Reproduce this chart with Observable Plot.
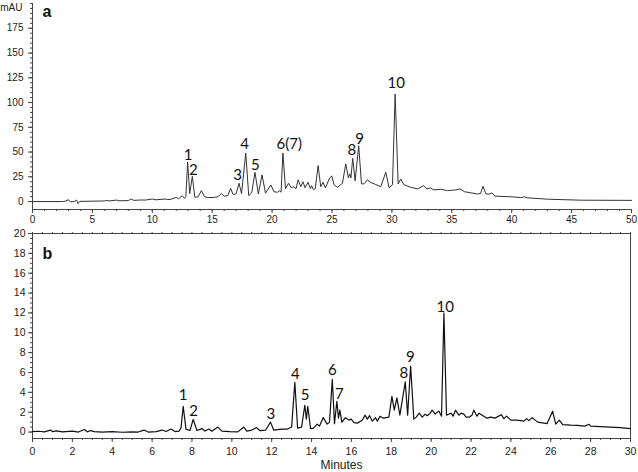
<!DOCTYPE html>
<html><head><meta charset="utf-8">
<script src="https://cdn.jsdelivr.net/npm/d3@7"></script>
<script src="https://cdn.jsdelivr.net/npm/@observablehq/plot@0.6"></script>
<style>
body{margin:0;background:#fff;}
#chart{width:638px;height:472px;position:relative;}
#chart svg{display:block;}
</style></head><body><div id="chart"></div>
<script>
// ---- Panel a data (retention time in min, absorbance in mAU) ----
const timeA = [0,2.5,2.7,2.98,3.2,3.5,3.68,3.8,3.95,5,6.0,6.2,6.4,6.99,7.2,8.0,8.24,8.45,9.0,9.4,10.0,10.3,11.1,11.3,11.6,12.0,12.2,12.5,12.7,12.8,12.95,13.12,13.34,13.55,13.8,14.1,14.35,14.6,15.2,15.5,15.76,16.0,16.3,16.54,16.75,17.0,17.24,17.45,17.8,18.05,18.3,18.57,18.85,19.16,19.45,19.9,20.15,20.45,20.6,20.75,20.9,21.12,21.36,21.6,21.8,22.0,22.17,22.4,22.58,22.75,23.0,23.2,23.3,23.45,23.6,23.84,24.06,24.25,24.45,24.76,24.98,25.17,25.45,25.87,26.15,26.37,26.48,26.58,26.73,26.93,27.23,27.46,27.7,27.96,28.2,28.6,29.07,29.49,29.77,30.05,30.27,30.52,30.74,31.0,31.58,32.14,32.64,32.92,33.2,33.5,34.09,34.64,35.34,35.7,36.05,36.6,37.15,37.4,37.6,37.85,38.1,38.35,38.6,40.0,40.8,41.05,41.3,43.0,45.8,50];
const signalA = [0,0,0.3,1.8,-0.3,0.2,1.5,-2.0,0.2,0.4,0.6,1.2,0.6,1.5,0.8,1.0,2.6,1.2,1.6,1.5,2.6,1.8,2.6,2.0,2.4,4.3,2.8,6.0,3.2,5,40,8,25.5,4.5,4.5,11,5,4,4.2,5,8,5.5,6,13.4,7,8,18.5,8,49,6,9,29.5,7.7,27,8.5,16.8,10,9.4,11,9.5,49,13,18.5,14,15,13,22,15,20,14,19.5,13,16,12,13,36.3,15,19.5,13.8,22.8,26,17,14.4,18.5,38,24,28,24,43.7,21,56.4,17.8,18,21.9,19.5,17.5,15,29.6,13.8,17,108.5,17.8,22.8,17,14.4,12.8,16,12.8,13.8,11.8,12.4,11,11.8,12.8,10,8.8,7.7,8,15.4,7.7,7.5,8.8,5.5,4.8,4.0,4.8,3.8,2.4,1.4,1.2];
const peakNamesA = ["1","2","3","4","5","6(7)","8","9","10"];
const peakLabelTimeA = [12.99,13.42,17.12,17.71,18.6,21.43,26.65,27.3,30.36];
const peakLabelLevelA = [42.3,27.2,22.2,53.1,32.3,53.1,47,58.2,114.6];
const xDomainA = [0,50];
const yDomainA = [-8,200];
const xTicksA = [0,5,10,15,20,25,30,35,40,45,50];
const yTicksA = [0,25,50,75,100,125,150,175];

// ---- Panel b data ----
const timeB = [0,0.3,0.6,0.9,1.0,1.2,1.5,2.0,2.3,2.6,2.75,2.9,3.1,3.5,4.0,4.5,5.0,5.3,5.6,5.8,6.2,6.5,6.7,6.95,7.15,7.35,7.45,7.56,7.7,7.9,8.06,8.25,8.5,8.65,8.85,9.0,9.3,9.5,9.9,10.3,10.6,10.75,11.0,11.24,11.4,11.7,11.94,12.1,12.5,12.8,13.0,13.16,13.3,13.5,13.66,13.74,13.81,13.95,14.1,14.28,14.4,14.58,14.78,14.9,15.04,15.15,15.27,15.35,15.42,15.52,15.7,15.87,15.99,16.13,16.3,16.54,16.68,16.8,16.91,17.05,17.21,17.3,17.43,17.6,17.88,18.03,18.15,18.28,18.43,18.7,18.82,18.97,19.13,19.25,19.4,19.55,19.7,19.8,19.95,20.05,20.2,20.3,20.39,20.52,20.64,20.77,21.0,21.1,21.22,21.39,21.5,21.64,21.75,21.9,22.05,22.14,22.3,22.4,22.56,22.8,22.98,23.2,23.52,23.65,23.78,24.0,24.3,24.65,24.79,24.9,25.07,25.34,25.82,26.09,26.25,26.43,26.6,27.0,27.33,27.7,27.92,28.0,28.5,29.0,29.5,30];
const signalB = [0.05,0.08,0.02,0.2,0.05,0.12,0.02,0.1,0.0,0.25,0.02,0.15,0.05,0.0,0.05,-0.02,0.02,0.0,0.2,0.0,0.05,0.2,0.05,0.3,0.05,0.1,0.4,2.6,0.3,0.15,1.28,0.15,0.35,0.1,0.3,0.08,0.5,0.1,0.05,0.02,0.5,0.1,0.2,0.45,0.15,0.2,1.0,0.2,0.3,0.3,0.5,5.0,0.4,0.5,2.7,1.3,2.6,0.35,0.4,0.8,0.6,1.45,0.8,1.0,5.3,0.85,3.1,1.4,2.2,1.0,1.45,1.2,1.3,0.95,0.9,1.18,1.7,1.3,1.65,1.1,1.45,1.1,1.6,1.4,1.5,3.6,2.2,3.45,1.7,5.05,1.7,6.65,1.3,1.5,1.9,1.5,1.8,1.65,1.9,2.2,1.8,2.0,2.1,1.6,12.0,1.7,1.9,1.6,2.2,1.7,1.9,1.8,1.5,1.5,1.7,2.2,1.6,1.9,1.7,1.4,1.5,1.4,1.75,1.35,1.6,1.2,1.2,1.1,1.35,1.15,1.45,1.0,0.85,2.1,0.8,1.2,0.75,0.7,0.68,0.6,0.78,0.6,0.55,0.5,0.45,0.34];
const peakNamesB = ["1","2","3","4","5","6","7","8","9","10"];
const peakLabelTimeB = [7.56,8.08,11.96,13.18,13.67,15.04,15.39,18.63,18.95,20.71];
const peakLabelLevelB = [3.2,1.62,1.28,5.32,3.2,5.73,3.3,5.45,7.07,12.12];
const xDomainB = [0,30];
const yDomainB = [-0.65,20];
const xTicksB = [0,2,4,6,8,10,12,14,16,18,20,22,24,26,28,30];
const yTicksB = [0,2,4,6,8,10,12,14,16,18,20];

// ---- build tables ----
const dataA = timeA.map((t,i)=>({t, v: signalA[i]}));
const dataB = timeB.map((t,i)=>({t, v: signalB[i]}));
const labA = peakNamesA.map((s,i)=>({s, t: peakLabelTimeA[i], v: peakLabelLevelA[i]}));
const labB = peakNamesB.map((s,i)=>({s, t: peakLabelTimeB[i], v: peakLabelLevelB[i]}));
const xMinorA = d3.range(xDomainA[0], xDomainA[1]+0.001, 1);
const yMinorA = d3.range(0, yDomainA[1]+0.001, 5);
const xMinorB = d3.range(xDomainB[0], xDomainB[1]+0.001, 0.5);
const yMinorB = d3.range(0, yDomainB[1]+0.001, 0.5);

const font = "'Liberation Sans', Arial, sans-serif";
const labelFont = "Lato, 'Open Sans', sans-serif";
const axisColor = "#444";

const plotA = Plot.plot({
  width: 638, height: 226,
  marginLeft: 32, marginRight: 7, marginTop: 3, marginBottom: 17,
  style: {fontFamily: font, fontSize: "10px", color: "#222", background: "#fff"},
  x: {domain: xDomainA},
  y: {domain: yDomainA},
  marks: [
    Plot.axisX({ticks: xTicksA, tickSize: 4, tickPadding: 2, label: null, stroke: axisColor}),
    Plot.axisX({ticks: xMinorA, tickSize: 2, text: null, label: null, stroke: axisColor}),
    Plot.axisY({ticks: yTicksA, tickSize: 4, tickPadding: 5, label: null, stroke: axisColor}),
    Plot.axisY({ticks: yMinorA, tickSize: 2, text: null, label: null, stroke: axisColor}),
    Plot.ruleX([xDomainA[0]], {stroke: axisColor}),
    Plot.ruleY([yDomainA[0]], {stroke: axisColor}),
    Plot.line(dataA, {x: "t", y: "v", stroke: "#333", strokeWidth: 1}),
    Plot.text(labA, {x: "t", y: "v", text: "s", fontFamily: labelFont, fontSize: 15, lineAnchor: "bottom", fill: "#111"}),
    Plot.text(["mAU"], {frameAnchor: "top-left", text: d => d, textAnchor: "end", dx: -10, dy: 4, lineAnchor: "middle", fill: "#222"}),
    Plot.text(["a"], {frameAnchor: "top-left", text: d => d, textAnchor: "start", dx: 10, dy: 13, lineAnchor: "bottom", fontWeight: "bold", fontSize: 16, fill: "#111"})
  ]
});

const plotB = Plot.plot({
  width: 638, height: 246,
  marginLeft: 32, marginRight: 8, marginTop: 7, marginBottom: 34,
  style: {fontFamily: font, fontSize: "10.5px", color: "#222", background: "#fff"},
  x: {domain: xDomainB},
  y: {domain: yDomainB},
  marks: [
    Plot.axisX({ticks: xTicksB, tickSize: 4, tickPadding: 5, label: null, stroke: axisColor}),
    Plot.axisX({ticks: xMinorB, tickSize: 2, text: null, label: null, stroke: axisColor}),
    Plot.axisX({anchor: "top", ticks: xMinorB, tickSize: 2, text: null, label: null, stroke: axisColor}),
    Plot.axisY({ticks: yTicksB, tickSize: 4, tickPadding: 3, label: null, stroke: axisColor}),
    Plot.axisY({ticks: yMinorB, tickSize: 2, text: null, label: null, stroke: axisColor}),
    Plot.frame({stroke: axisColor}),
    Plot.line(dataB, {x: "t", y: "v", stroke: "#111", strokeWidth: 1.2}),
    Plot.text(labB, {x: "t", y: "v", text: "s", fontFamily: labelFont, fontSize: 15, lineAnchor: "bottom", fill: "#111"}),
    Plot.text(["b"], {frameAnchor: "top-left", text: d => d, textAnchor: "start", dx: 10, dy: 25, lineAnchor: "bottom", fontWeight: "bold", fontSize: 16, fill: "#111"}),
    Plot.text(["Minutes"], {frameAnchor: "bottom", text: d => d, dx: 10, dy: 30, lineAnchor: "bottom", fontSize: 12, fill: "#222"})
  ]
});

const chart = document.getElementById("chart");
chart.appendChild(plotA);
chart.appendChild(plotB);
</script>
</body></html>
